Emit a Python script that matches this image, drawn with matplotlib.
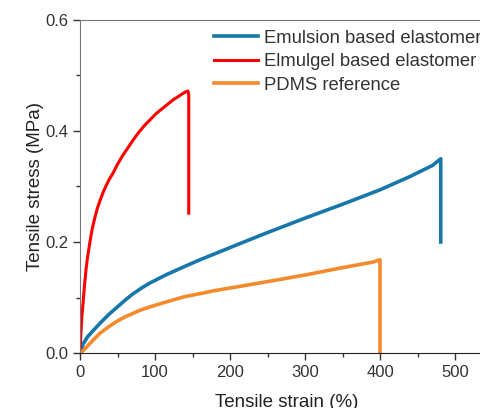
import matplotlib
matplotlib.use("Agg")
import matplotlib.pyplot as plt
from matplotlib.ticker import MultipleLocator, FormatStrFormatter

plt.rcParams["font.family"] = ["Liberation Sans", "DejaVu Sans"]

# values (strain %, stress MPa)
emulsion_strain = [0, 2, 4, 10, 18, 27, 38, 49, 60, 70, 82, 93, 115, 138, 160, 182, 213, 250, 300, 350, 400, 440, 470, 481, 481]
emulsion_stress = [0, 0.006, 0.016, 0.029, 0.041, 0.054, 0.069, 0.082, 0.095, 0.106, 0.117, 0.126, 0.141, 0.155, 0.168, 0.180, 0.197, 0.217, 0.243, 0.268, 0.294, 0.318, 0.338, 0.350, 0.200]

elmulgel_strain = [0, 1, 2.5, 4.4, 6, 8, 10, 13, 16, 20, 23, 27, 31, 35, 39, 44, 50, 57, 64, 71, 78, 86, 94, 102, 113, 124, 132, 140, 144, 145, 145]
elmulgel_stress = [0, 0.030, 0.065, 0.095, 0.122, 0.150, 0.172, 0.198, 0.222, 0.245, 0.260, 0.276, 0.290, 0.302, 0.313, 0.324, 0.340, 0.356, 0.370, 0.384, 0.397, 0.410, 0.421, 0.432, 0.444, 0.456, 0.463, 0.470, 0.472, 0.465, 0.252]

pdms_strain = [0, 4, 9, 18, 27, 38, 49, 60, 70, 80, 93, 115, 138, 160, 182, 213, 260, 302, 347, 391, 400, 400]
pdms_stress = [0, 0.004, 0.011, 0.024, 0.036, 0.047, 0.057, 0.065, 0.071, 0.077, 0.083, 0.092, 0.101, 0.107, 0.113, 0.120, 0.131, 0.141, 0.153, 0.164, 0.168, 0.0]

labels = ["Emulsion based elastomer", "Elmulgel based elastomer", "PDMS reference"]
colors = ["#1877aa", "#ff0000", "#f58a2c"]

fig = plt.figure(figsize=(4.8, 4.08), dpi=100)
ax = fig.add_axes([80 / 480, 55 / 408, 412.5 / 480, 333 / 408])

ax.plot(emulsion_strain, emulsion_stress, color=colors[0], lw=2.6, label=labels[0])
ax.plot(elmulgel_strain, elmulgel_stress, color=colors[1], lw=2.2, label=labels[1])
ax.plot(pdms_strain, pdms_stress, color=colors[2], lw=2.6, label=labels[2])

ax.set_xlim(0, 550)
ax.set_ylim(0, 0.6)
ax.xaxis.set_major_locator(MultipleLocator(100))
ax.xaxis.set_minor_locator(MultipleLocator(50))
ax.yaxis.set_major_locator(MultipleLocator(0.2))
ax.yaxis.set_minor_locator(MultipleLocator(0.1))
ax.yaxis.set_major_formatter(FormatStrFormatter("%.1f"))
ax.tick_params(which="both", direction="out", labelsize=12, colors="#333333")
ax.tick_params(which="major", length=5, width=1)
ax.tick_params(which="minor", length=3, width=1)
for side in ["left", "top"]:
    ax.spines[side].set_color("#777777")
ax.spines["bottom"].set_color("#222222")

ax.set_xlabel("Tensile strain (%)", fontsize=13.5, color="#222222", labelpad=10)
ax.set_ylabel("Tensile stress (MPa)", fontsize=13.5, color="#222222", labelpad=1)

leg = ax.legend(loc="upper left", bbox_to_anchor=(197 / 480, 395 / 408), bbox_transform=fig.transFigure,
                frameon=False, fontsize=13.3, handlelength=2.4, handletextpad=0.3, labelspacing=0.36)
for t in leg.get_texts():
    t.set_color("#333333")

fig.savefig("out.png", dpi=100)
